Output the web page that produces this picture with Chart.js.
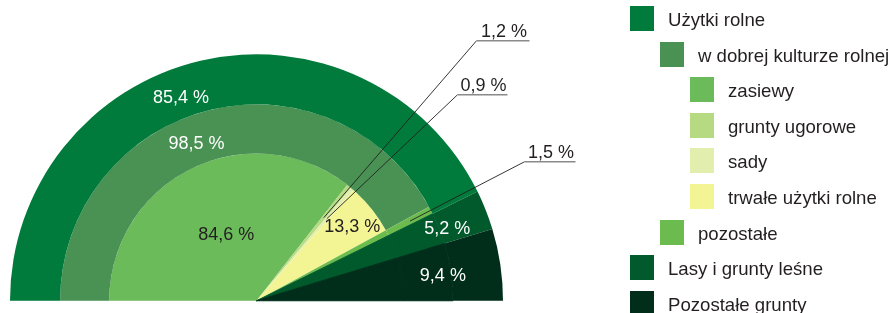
<!DOCTYPE html>
<html>
<head>
<meta charset="utf-8">
<script src="https://cdn.jsdelivr.net/npm/chart.js@4"></script>
<style>
  html,body{margin:0;padding:0;background:#fff;width:891px;height:313px;overflow:hidden;}
  #wrap{position:relative;width:891px;height:313px;}
  canvas{position:absolute;left:0;top:0;}
  .lg{position:absolute;font-family:"Liberation Sans",Arial,sans-serif;font-size:18.6px;color:#231f20;white-space:nowrap;}
  .sw{position:absolute;width:24px;height:25px;}
  .tx{position:absolute;line-height:27px;}
</style>
</head>
<body>
<div id="wrap">
  <canvas id="c" width="891" height="313"></canvas>
  <div id="legend"></div>
</div>
<script>
// ---- data ----
const landUseLabels = ['Użytki rolne', 'Lasy i grunty leśne', 'Pozostałe grunty'];
const landUseShares = [85.4, 5.2, 9.4];            // % of total area
const agriLabels = ['w dobrej kulturze rolnej', 'pozostałe'];
const agriShares = [98.5, 1.5];                     // % of Użytki rolne
const goodLabels = ['zasiewy', 'grunty ugorowe', 'sady', 'trwałe użytki rolne'];
const goodShares = [84.6, 1.2, 0.9, 13.3];          // % of w dobrej kulturze rolnej

// ---- colours ----
const cAgri = '#007b3b', cGood = '#4a9254', cSown = '#6cbb5a', cFallow = '#b6da82',
      cOrch = '#e2eead', cPerm = '#f3f594', cOther = '#6cbb4f', cForest = '#005a2c', cRest = '#002e1a';

// ---- derived ring values (shares of the full half circle) ----
const outerData = landUseShares.slice();
const middleData = agriShares.map(s => landUseShares[0] * s / 100).concat(landUseShares.slice(1));
const innerData = goodShares.map(s => landUseShares[0] * agriShares[0] / 100 * s / 100)
  .concat([landUseShares[0] * agriShares[1] / 100])
  .concat(landUseShares.slice(1));

const fmt = v => v.toFixed(1).replace('.', ',') + ' %';

// label specs: dataset index, element index, text, angle offset (deg) from slice middle, radius
const inlineLabels = [
  {ds: 0, i: 0, text: fmt(landUseShares[0]), dAng: -7.3, r: 216, color: '#ffffff'},
  {ds: 1, i: 0, text: fmt(agriShares[0]), dAng: -6.6, r: 168, color: '#ffffff'},
  {ds: 2, i: 0, text: fmt(goodShares[0]), dAng: 1.1, r: 72, color: '#231f20'},
  {ds: 2, i: 3, text: fmt(goodShares[3]), dAng: 1.0, r: 121, color: '#231f20'},
  {ds: 0, i: 1, text: fmt(landUseShares[1]), dAng: 0.9, r: 204, color: '#ffffff'},
  {ds: 0, i: 2, text: fmt(landUseShares[2]), dAng: 0.9, r: 188, color: '#ffffff'}
];
const leaderLabels = [
  {ds: 2, i: 1, text: fmt(goodShares[1]), r: 107, ex: 220, ey: -260, len: 53},
  {ds: 2, i: 2, text: fmt(goodShares[2]), r: 108, ex: 201, ey: -206, len: 50},
  {ds: 1, i: 1, text: fmt(agriShares[1]), r: 173, ex: 268, ey: -139, len: 51}
];

const labelPlugin = {
  id: 'sliceLabels',
  afterDatasetsDraw(chart) {
    const ctx = chart.ctx;
    ctx.save();
    ctx.font = '18px "Liberation Sans", Arial, sans-serif';
    ctx.textAlign = 'center';
    ctx.textBaseline = 'middle';
    inlineLabels.forEach(l => {
      const el = chart.getDatasetMeta(l.ds).data[l.i];
      const a = (el.startAngle + el.endAngle) / 2 + l.dAng * Math.PI / 180;
      ctx.fillStyle = l.color;
      ctx.fillText(l.text, el.x + l.r * Math.cos(a), el.y + l.r * Math.sin(a));
    });
    leaderLabels.forEach(l => {
      const el = chart.getDatasetMeta(l.ds).data[l.i];
      const a = (el.startAngle + el.endAngle) / 2;
      const ax = el.x + l.r * Math.cos(a), ay = el.y + l.r * Math.sin(a);
      const bx = el.x + l.ex, by = el.y + l.ey;
      ctx.strokeStyle = '#231f20';
      ctx.lineWidth = 0.9;
      ctx.beginPath(); ctx.moveTo(ax, ay); ctx.lineTo(bx, by); ctx.stroke();
      ctx.strokeStyle = '#8a8a8a';
      ctx.lineWidth = 1.6;
      ctx.beginPath(); ctx.moveTo(bx, by); ctx.lineTo(bx + l.len, by); ctx.stroke();
      ctx.fillStyle = '#231f20';
      ctx.textBaseline = 'alphabetic';
      ctx.fillText(l.text, bx + l.len / 2 + 1, by - 4);
      ctx.textBaseline = 'middle';
    });
    ctx.restore();
  }
};

// borders only on the shared (full-radius) slices, same colour as fill, to hide ring seams
const seamBorder = (n, shared) => Array.from({length: n}, (_, k) => k >= n - shared ? 1 : 0);

new Chart(document.getElementById('c'), {
  type: 'doughnut',
  data: {
    labels: landUseLabels,
    datasets: [
      {data: outerData, backgroundColor: [cAgri, cForest, cRest], borderColor: [cAgri, cForest, cRest],
       borderWidth: [0, 0, 0], weight: 50},
      {data: middleData, backgroundColor: [cGood, cOther, cForest, cRest], borderColor: [cGood, cOther, cForest, cRest],
       borderWidth: seamBorder(4, 2), weight: 49},
      {data: innerData, backgroundColor: [cSown, cFallow, cOrch, cPerm, cOther, cForest, cRest],
       borderColor: [cSown, cFallow, cOrch, cPerm, cOther, cForest, cRest],
       borderWidth: seamBorder(7, 2), weight: 147}
    ]
  },
  options: {
    responsive: false,
    animation: false,
    rotation: -90,
    circumference: 180,
    cutout: 0,
    layout: {padding: {left: 10, top: 54, right: 388, bottom: 12}},
    plugins: {legend: {display: false}, tooltip: {enabled: false}},
    events: []
  },
  plugins: [labelPlugin]
});

// ---- HTML legend ----
const legendItems = [
  {t: landUseLabels[0], c: cAgri, lvl: 0},
  {t: agriLabels[0], c: cGood, lvl: 1},
  {t: goodLabels[0], c: cSown, lvl: 2},
  {t: goodLabels[1], c: cFallow, lvl: 2},
  {t: goodLabels[2], c: cOrch, lvl: 2},
  {t: goodLabels[3], c: cPerm, lvl: 2},
  {t: agriLabels[1], c: cOther, lvl: 1},
  {t: landUseLabels[1], c: cForest, lvl: 0},
  {t: landUseLabels[2], c: cRest, lvl: 0}
];
const lg = document.getElementById('legend');
legendItems.forEach((it, k) => {
  const top = 6 + k * 35.6;
  const left = 630 + it.lvl * 30;
  const sw = document.createElement('div');
  sw.className = 'lg sw';
  sw.style.left = left + 'px'; sw.style.top = top + 'px'; sw.style.background = it.c;
  const tx = document.createElement('div');
  tx.className = 'lg tx';
  tx.style.left = (left + 38) + 'px'; tx.style.top = (top) + 'px';
  tx.textContent = it.t;
  lg.appendChild(sw); lg.appendChild(tx);
});
</script>
</body>
</html>
